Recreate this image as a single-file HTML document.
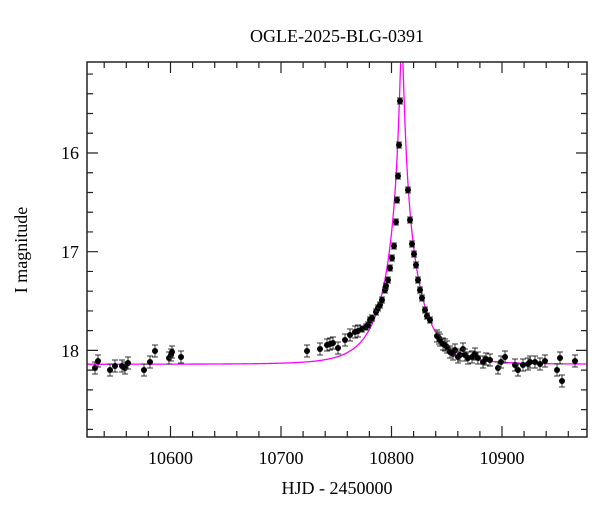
<!DOCTYPE html>
<html><head><meta charset="utf-8"><style>
body{margin:0;background:#fff}
svg{display:block;font-family:"Liberation Serif",serif}
</style></head><body>
<svg id="s" width="600" height="512" xmlns="http://www.w3.org/2000/svg">
<defs><clipPath id="c"><rect x="87" y="62" width="500" height="375"/></clipPath></defs>
<text x="337" y="42" font-size="18" text-anchor="middle">OGLE-2025-BLG-0391</text>
<text x="337" y="494" font-size="18" text-anchor="middle">HJD - 2450000</text>
<text transform="translate(27,250) rotate(-90)" font-size="18" text-anchor="middle">I magnitude</text>
<g font-size="18" text-anchor="middle">
<text x="170.5" y="464">10600</text><text x="281" y="464">10700</text>
<text x="391.5" y="464">10800</text><text x="502" y="464">10900</text>
</g>
<g font-size="18" text-anchor="end">
<text x="79" y="159">16</text><text x="79" y="258">17</text><text x="79" y="357">18</text>
</g>
<g id="ax" stroke="#222" stroke-width="1.2" fill="none"></g>
<path id="curve" clip-path="url(#c)" stroke="#ff00ff" stroke-width="1.3" fill="none"/>
<g id="pts" clip-path="url(#c)"></g>
<rect x="87" y="62" width="500" height="375" fill="none" stroke="#222" stroke-width="1.5"/>
</svg>
<script>
var X=function(t){return 170.5+(t-10600)*1.105},Y=function(m){return 153+(m-16)*98.7};
var ax=document.getElementById('ax'),d='';
for(var t=10540;t<=10980;t+=20){var x=X(t);if(x<88||x>586)continue;var L=(t%100==0)?11:6;d+='M'+x+' 437v-'+L+'M'+x+' 62v'+L;}
for(var k=0;k<=20;k++){var m=15+k*0.2;var y=Y(m);if(y<63||y>436)continue;var L=(Math.abs(m-Math.round(m))<0.01)?11:6;d+='M87 '+y+'h'+L+'M587 '+y+'h-'+L;}
ax.innerHTML='<path d="'+d+'"/>';
var t0=10809.3,tE=31,u0=0.05,I0=18.14,p='';
for(var px=87;px<=587;px+=0.5){var tt=10600+(px-170.5)/1.105;var u=Math.sqrt(u0*u0+Math.pow((tt-t0)/tE,2));var A=(u*u+2)/(u*Math.sqrt(u*u+4));var mm=I0-2.5*Math.log10(A);p+=(p?'L':'M')+px+' '+Y(mm).toFixed(2);}
document.getElementById('curve').setAttribute('d',p);
var P=[[95,368],[98,361],[110,370],[115,366],[122,366],[125,368],[128,363],[144,370],[150,362],[155,351],[169,358],[171,355],[172,352],[181,357],
[307,351],[320,349],[327,345],[330,344],[333,343],[338,348],[345,340],[350,335],[355,332],[358,331],[362,329],[366,327],[368,325],[370,320],[372,318],[376,312],[378,308],[380,305],[382,300],[385,290],[386,286],[388,280],[390,268],[392,258],[394,246],[396,222],[397,200],[398,176],[399,145],[400,101],
[408,190],[410,220],[412,244],[414,254],[416,265],[418,280],[420,290],[422,298],[425,310],[427,316],[430,320],[437,336],[439,338],[440,340],[443,344],[445,345],[447,347],[450,352],[453,354],[455,350],[458,357],[460,355],[463,349],[465,355],[468,358],[472,357],[475,354],[478,358],[483,362],[486,359],[490,360],[498,368],[501,362],[505,357],[515,365],[518,370],[523,365],[528,364],[530,362],[535,362],[540,364],[545,361],[557,370],[560,358],[562,381],[575,361]];
var g='';P.forEach(function(q){var x=q[0],y=q[1],e=y>330?6:3;g+='<path d="M'+x+' '+(y-e)+'V'+(y+e)+'M'+(x-3)+' '+(y-e)+'h6M'+(x-3)+' '+(y+e)+'h6" stroke="#333" stroke-width="1"/><circle cx="'+x+'" cy="'+y+'" r="3" fill="#000"/>';});
document.getElementById('pts').innerHTML=g;
</script>
</body></html>
